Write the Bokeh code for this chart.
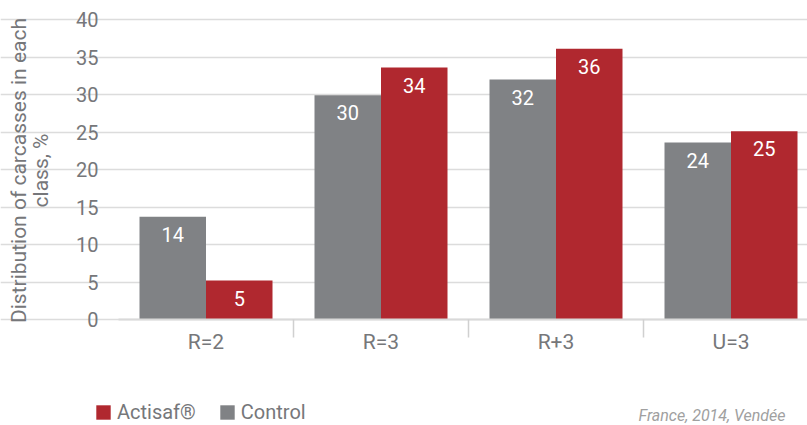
import math
from bokeh.plotting import figure
from bokeh.models import ColumnDataSource, FixedTicker, Legend, LegendItem, Label, Range1d
from bokeh.embed import file_html
from bokeh.resources import INLINE
from bokeh.core.properties import value

categories = ["R=2", "R=3", "R+3", "U=3"]
control = [13.7, 29.9, 32.0, 23.6]
actisaf = [5.2, 33.6, 36.1, 25.1]
control_labels = ["14", "30", "32", "24"]
actisaf_labels = ["5", "34", "36", "25"]
y_ticks = [0, 5, 10, 15, 20, 25, 30, 35, 40]
y_title = ["Distribution of carcasses in each", "class, %"]
note_text = "France, 2014, Vendée"

RED = "#b0282f"
GREY = "#808285"
TXT = "#76777a"
FONT = "Roboto"

centers = [i + 0.5 for i in range(len(categories))]
xc = [c - 0.19 for c in centers]
xa = [c + 0.19 for c in centers]

src_c = ColumnDataSource(dict(x=xc, top=control, lab=control_labels))
src_a = ColumnDataSource(dict(x=xa, top=actisaf, lab=actisaf_labels))

W, H = 807, 425
PXU_X = 175.0
PXU_Y = 7.5
X0 = 118.0   # px where x=0
Y0 = 319.0   # px (from top) where y=0


def dx(px):
    return (px - X0) / PXU_X


def dy(py):
    return (Y0 - py) / PXU_Y


p = figure(width=W, height=H,
           x_range=Range1d(dx(0), dx(W)),
           y_range=Range1d(dy(H), dy(0)),
           output_backend="svg", toolbar_location=None,
           min_border_left=0, min_border_right=0, min_border_top=0, min_border_bottom=0)
p.outline_line_color = None
p.background_fill_color = "white"
p.border_fill_color = "white"
p.xgrid.visible = False
p.ygrid.grid_line_color = "#dcdcdc"
p.ygrid.grid_line_width = 1.5
p.ygrid.ticker = FixedTicker(ticks=y_ticks)
p.ygrid.bounds = (0, len(categories))

rc = p.vbar(x="x", top="top", bottom=0, width=0.38, source=src_c, fill_color=GREY, line_color=None)
ra = p.vbar(x="x", top="top", bottom=0, width=0.38, source=src_a, fill_color=RED, line_color=None)

for s in (src_c, src_a):
    p.text(x="x", y="top", text="lab", source=s, text_align="center", text_baseline="top",
           y_offset=10, text_color="white", text_font=value(FONT), text_font_size="20px")

ya = p.yaxis[0]
ya.fixed_location = 0
ya.bounds = (0, 40)
ya.ticker = FixedTicker(ticks=y_ticks)
ya.axis_line_color = None
ya.major_tick_line_color = None
ya.minor_tick_line_color = None
ya.major_label_standoff = 14
ya.major_label_text_font = FONT
ya.major_label_text_font_size = "20px"
ya.major_label_text_color = TXT

for i, line in enumerate(y_title):
    p.add_layout(Label(x=dx(18 + 22 * i), y=dy(170), text=line, angle=math.pi / 2,
                       text_align="center", text_baseline="middle",
                       text_font=FONT, text_font_size="21px", text_color=TXT))

xa_ = p.xaxis[0]
xa_.fixed_location = 0
xa_.bounds = (0, len(categories))
xa_.ticker = FixedTicker(ticks=centers, minor_ticks=[1, 2, 3])
xa_.major_label_overrides = {c: cat for c, cat in zip(centers, categories)}
xa_.axis_line_color = "#d9d9d9"
xa_.axis_line_width = 2
xa_.major_tick_out = 0
xa_.major_tick_in = 0
xa_.major_tick_line_color = None
xa_.minor_tick_out = 18
xa_.minor_tick_in = 0
xa_.minor_tick_line_color = "#d0d0d0"
xa_.minor_tick_line_width = 1.5
xa_.major_label_standoff = -8
xa_.major_label_text_font = FONT
xa_.major_label_text_font_size = "21px"
xa_.major_label_text_color = TXT

legend = Legend(items=[LegendItem(label="Actisaf®", renderers=[ra]),
                       LegendItem(label="Control", renderers=[rc])],
                orientation="horizontal", location=(94, 1),
                glyph_width=18, glyph_height=18, label_standoff=5, spacing=22,
                padding=0, margin=0, border_line_color=None, background_fill_alpha=0,
                label_text_font=FONT, label_text_font_size="20px", label_text_color=TXT,
                label_height=18)
p.add_layout(legend)

note = Label(x=dx(638), y=dy(424), text=note_text,
             text_font=FONT, text_font_style="italic", text_font_size="16px",
             text_color="#a0a0a0", text_baseline="bottom")
p.add_layout(note)

open("out.html", "w").write(file_html(p, INLINE))
